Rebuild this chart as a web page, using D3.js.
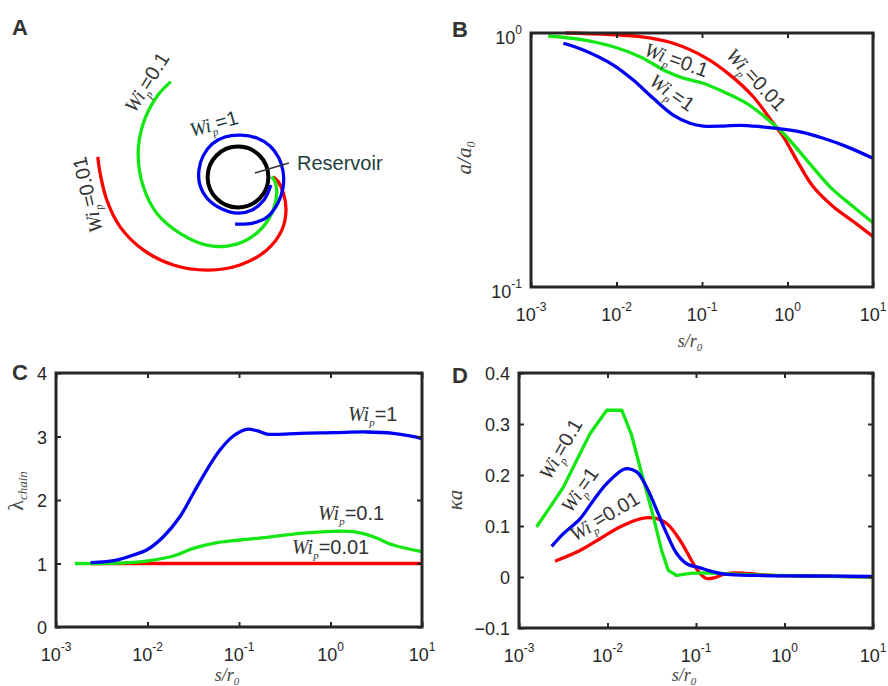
<!DOCTYPE html>
<html><head><meta charset="utf-8">
<script src="https://cdn.jsdelivr.net/npm/d3@7"></script>
<style>body{margin:0;background:#fff}</style>
</head><body><svg id="c" width="888" height="686"></svg>
<script>
// ---------- data ----------
const xTicks = [1e-3, 1e-2, 1e-1, 1, 10];
const xTickExp = ["-3", "-2", "-1", "0", "1"];
const bTicks = [0.1, 1];
const bTickExp = ["-1", "0"];
const cTicks = [0, 1, 2, 3, 4];
const dTicks = [-0.1, 0, 0.1, 0.2, 0.3, 0.4];
const series = ["0.01", "0.1", "1"];

// Panel A: streamlines around the reservoir (units of reservoir radius, y up)
const aRed = [[-4.38,0.63],[-4.31,0.12],[-4.10,-0.72],[-3.69,-1.55],[-2.96,-2.28],[-2.02,-2.75],[-0.93,-2.91],[0.06,-2.75],[0.90,-2.28],[1.37,-1.66],[1.50,-1.03],[1.42,-0.51],[1.26,-0.15],[1.10,0.01]];
const aGreen = [[-2.10,2.98],[-2.54,2.51],[-2.96,1.68],[-3.12,0.74],[-2.96,-0.30],[-2.54,-1.13],[-1.81,-1.76],[-0.98,-2.13],[-0.35,-2.16],[0.27,-1.97],[0.79,-1.55],[1.10,-1.03],[1.21,-0.51],[1.16,-0.15],[1.05,0.01]];
const aBlue = [[1.03,-0.25],[0.81,-0.72],[0.44,-1.03],[0,-1.13],[-0.5,-1.0],[-0.94,-0.69],[-1.19,-0.25],[-1.22,0.22],[-1.09,0.66],[-0.81,1.03],[-0.41,1.25],[0.09,1.31],[0.59,1.22],[1.0,0.97],[1.28,0.59],[1.41,0.16],[1.41,-0.31],[1.25,-0.81],[0.91,-1.25],[0.47,-1.44],[-0.09,-1.47]];
const reservoirR = 0.95;

// Panel B: a/a0 vs s/r0
const bRedS = [0.0025,0.0188,0.0461,0.1135,0.212,0.398,0.682,0.893,1.28,2.0,3.44,5.89,10];
const bRedA = [1.0,0.967,0.911,0.795,0.684,0.561,0.441,0.391,0.316,0.248,0.207,0.181,0.158];
const bGreenS = [0.00159,0.00374,0.00918,0.0188,0.0386,0.0604,0.1035,0.1774,0.333,0.571,0.893,1.68,3.14,5.89,10];
const bGreenA = [0.973,0.944,0.883,0.807,0.705,0.664,0.634,0.587,0.528,0.461,0.403,0.316,0.248,0.207,0.179];
const bBlueS = [0.00239,0.00409,0.00918,0.0157,0.0269,0.0461,0.0724,0.1035,0.1774,0.278,0.476,0.748,1.40,2.62,4.92,10];
const bBlueA = [0.911,0.857,0.748,0.653,0.553,0.475,0.441,0.430,0.430,0.433,0.428,0.421,0.408,0.385,0.357,0.321];

// Panel C: lambda_chain vs s/r0
const cRedS = [0.0024,0.01,0.1,1,10];
const cRedL = [1,1,1,1,1];
const cGreenS = [0.00161,0.00303,0.0070,0.0106,0.0191,0.0317,0.0524,0.1026,0.201,0.465,1.07,1.77,2.94,4.85,10];
const cGreenL = [1.0,1.0,1.018,1.045,1.118,1.239,1.318,1.37,1.412,1.475,1.507,1.501,1.422,1.291,1.186];
const cBlueS = [0.00239,0.0046,0.0070,0.0098,0.0149,0.0226,0.0317,0.0444,0.0619,0.0867,0.121,0.156,0.201,0.258,0.465,1.07,2.49,4.85,7.4,10];
const cBlueL = [1.013,1.055,1.134,1.213,1.422,1.737,2.106,2.472,2.787,3.008,3.113,3.091,3.039,3.035,3.05,3.06,3.071,3.05,3.008,2.965];

// Panel D: kappa*a vs s/r0
const dRedS = [0.00255,0.00489,0.00822,0.0138,0.0233,0.033,0.0467,0.0659,0.0933,0.111,0.132,0.164,0.204,0.264,0.374,0.748,1.78,10];
const dRedK = [0.031,0.052,0.075,0.098,0.114,0.116,0.105,0.072,0.026,0.007,-0.003,-0.001,0.005,0.008,0.007,0.003,0.002,0.0];
const dGreenS = [0.00158,0.00224,0.00317,0.00449,0.00634,0.0098,0.0145,0.01875,0.0243,0.0316,0.0409,0.0486,0.0605,0.0855,0.132,0.314,0.748,1.78,10];
const dGreenK = [0.098,0.137,0.176,0.229,0.281,0.327,0.327,0.278,0.203,0.131,0.052,0.013,0.003,0.007,0.008,0.005,0.003,0.002,0.0];
const dBlueS = [0.00234,0.00317,0.00489,0.00692,0.0098,0.0158,0.0214,0.0277,0.036,0.0467,0.0605,0.0785,0.111,0.157,0.222,0.485,1.78,10];
const dBlueK = [0.060,0.085,0.114,0.150,0.183,0.212,0.206,0.176,0.131,0.085,0.046,0.026,0.018,0.010,0.005,0.003,0.002,0.001];

// ---------- style ----------
const RED = "#ff0000", GREEN = "#14e614", BLUE = "#0000f5";
const INK = "#262626", TITLE = "#444", TEAL = "#1c3d3d";
const SANS = "Liberation Sans, Arial, sans-serif";
const SERIF = "Liberation Serif, Times New Roman, serif";

const svg = d3.select("#c");
svg.append("rect").attr("width", 888).attr("height", 686).attr("fill", "#fff");

function zip(a, b) { return a.map((v, i) => [v, b[i]]); }

function wiLabel(g, x, y, rot, val, color, size) {
  size = size || 20;
  const t = g.append("text")
    .attr("transform", `translate(${x},${y}) rotate(${rot})`)
    .attr("fill", color).attr("font-size", size);
  t.append("tspan").attr("font-family", SERIF).attr("font-style", "italic").text("Wi");
  t.append("tspan").attr("font-family", SERIF).attr("font-style", "italic")
    .attr("font-size", size * 0.55).attr("dy", size * 0.25).text("p");
  t.append("tspan").attr("font-family", SANS).attr("dy", -size * 0.25).text("=" + val);
}

function panelLetter(x, y, s) {
  svg.append("text").attr("x", x).attr("y", y).attr("font-family", SANS)
    .attr("font-weight", "bold").attr("font-size", 22).attr("fill", "#333").text(s);
}

function frame(g, L, R, T, B) {
  g.append("rect").attr("x", L).attr("y", T).attr("width", R - L).attr("height", B - T)
    .attr("fill", "none").attr("stroke", INK).attr("stroke-width", 3);
}

function xAxisLog(g, x, T, B, titleY) {
  const bot = g.append("g").attr("transform", `translate(0,${B})`)
    .call(d3.axisBottom(x).tickValues(xTicks).tickSize(-5).tickFormat(""));
  const top = g.append("g").attr("transform", `translate(0,${T})`)
    .call(d3.axisTop(x).tickValues(xTicks).tickSize(-5).tickFormat(""));
  [bot, top].forEach(a => { a.select(".domain").remove(); a.selectAll("line").attr("stroke", INK).attr("stroke-width", 2); });
  xTicks.forEach((v, i) => {
    const t = g.append("text").attr("x", x(v)).attr("y", B + 34).attr("text-anchor", "middle")
      .attr("font-family", SANS).attr("font-size", 18).attr("fill", INK);
    t.append("tspan").text("10");
    t.append("tspan").attr("font-size", 12).attr("dy", -10).text(xTickExp[i]);
  });
  const cx = (x.range()[0] + x.range()[1]) / 2 - 12;
  const t = g.append("text").attr("x", cx).attr("y", titleY).attr("text-anchor", "middle")
    .attr("font-family", SERIF).attr("font-style", "italic").attr("font-size", 18).attr("fill", TITLE);
  t.append("tspan").text("s/r");
  t.append("tspan").attr("font-size", 11).attr("dy", 4).text("0");
}

function yAxisLin(g, y, L, R, ticks, fmt) {
  const l = g.append("g").attr("transform", `translate(${L},0)`)
    .call(d3.axisLeft(y).tickValues(ticks).tickSize(-5).tickFormat(""));
  const r = g.append("g").attr("transform", `translate(${R},0)`)
    .call(d3.axisRight(y).tickValues(ticks).tickSize(-5).tickFormat(""));
  [l, r].forEach(a => { a.select(".domain").remove(); a.selectAll("line").attr("stroke", INK).attr("stroke-width", 2); });
  ticks.forEach(v => {
    g.append("text").attr("x", L - 9).attr("y", y(v) + 7).attr("text-anchor", "end")
      .attr("font-family", SANS).attr("font-size", 18).attr("fill", INK).text(fmt(v));
  });
}

function curve(g, pts, x, y, color, c) {
  g.append("path").datum(pts)
    .attr("d", d3.line().x(d => x(d[0])).y(d => y(d[1])).curve(c || d3.curveCatmullRom.alpha(0.5)))
    .attr("fill", "none").attr("stroke", color).attr("stroke-width", 3.3)
    .attr("stroke-linejoin", "round").attr("stroke-linecap", "butt");
}

// ---------- Panel A ----------
{
  const g = svg.append("g");
  const xA = d3.scaleLinear().domain([0, 1]).range([238, 270]);
  const yA = d3.scaleLinear().domain([0, 1]).range([177, 145]);
  curve(g, aRed, xA, yA, RED);
  curve(g, aGreen, xA, yA, GREEN);
  g.append("circle").attr("cx", xA(0)).attr("cy", yA(0)).attr("r", xA(reservoirR) - xA(0))
    .attr("fill", "none").attr("stroke", "#000").attr("stroke-width", 4);
  curve(g, aBlue, xA, yA, BLUE);
  g.append("line").attr("x1", xA(0.53)).attr("y1", yA(0.125)).attr("x2", xA(1.59)).attr("y2", yA(0.44))
    .attr("stroke", "#333").attr("stroke-width", 1.5);
  g.append("text").attr("x", 297).attr("y", 170).attr("font-family", SANS).attr("font-size", 20)
    .attr("fill", TEAL).text("Reservoir");
  wiLabel(g, 192, 137, -16, series[2], TEAL);
  wiLabel(g, 135, 114, -58, series[1], "#333");
  wiLabel(g, 103, 231, -103, series[0], "#333");
  panelLetter(12, 35, "A");
}

// ---------- Panel B ----------
{
  const g = svg.append("g");
  const L = 531, R = 873, T = 33, B = 287;
  const x = d3.scaleLog().domain([1e-3, 10]).range([L, R]);
  const y = d3.scaleLog().domain([0.1, 1]).range([B, T]);
  curve(g, zip(bRedS, bRedA), x, y, RED);
  curve(g, zip(bGreenS, bGreenA), x, y, GREEN);
  curve(g, zip(bBlueS, bBlueA), x, y, BLUE);
  frame(g, L, R, T, B);
  xAxisLog(g, x, T, B, 347);
  bTicks.forEach((v, i) => {
    const t = g.append("text").attr("x", L - 9).attr("y", y(v) + 10.5).attr("text-anchor", "end")
      .attr("font-family", SANS).attr("font-size", 18).attr("fill", INK);
    t.append("tspan").text("10");
    t.append("tspan").attr("font-size", 12).attr("dy", -10).text(bTickExp[i]);
  });
  const yt = g.append("text").attr("transform", `translate(471,158) rotate(-90)`).attr("text-anchor", "middle")
    .attr("font-family", SERIF).attr("font-style", "italic").attr("font-size", 21).attr("fill", TITLE);
  yt.append("tspan").text("a/a");
  yt.append("tspan").attr("font-size", 12).attr("dy", 4).text("0");
  wiLabel(g, 643, 55, 20, series[1], "#333");
  wiLabel(g, 648, 84, 35, series[2], "#333");
  wiLabel(g, 725, 56, 47, series[0], "#333");
  panelLetter(452, 37, "B");
}

// ---------- Panel C ----------
{
  const g = svg.append("g");
  const L = 56, R = 422, T = 373, B = 627;
  const x = d3.scaleLog().domain([1e-3, 10]).range([L, R]);
  const y = d3.scaleLinear().domain([0, 4]).range([B, T]);
  curve(g, zip(cRedS, cRedL), x, y, RED);
  curve(g, zip(cGreenS, cGreenL), x, y, GREEN);
  curve(g, zip(cBlueS, cBlueL), x, y, BLUE);
  frame(g, L, R, T, B);
  xAxisLog(g, x, T, B, 681);
  yAxisLin(g, y, L, R, cTicks, d3.format("d"));
  const yt = g.append("text").attr("transform", `translate(23,491) rotate(-90)`).attr("text-anchor", "middle")
    .attr("font-family", SERIF).attr("fill", TITLE);
  yt.append("tspan").attr("font-size", 22).text("λ");
  yt.append("tspan").attr("font-size", 13).attr("font-style", "italic").attr("dy", 4).text("chain");
  wiLabel(g, 348, 421, 0, series[2], "#333");
  wiLabel(g, 318, 520, 0, series[1], "#333");
  wiLabel(g, 292, 554, 0, series[0], "#333");
  panelLetter(12, 380, "C");
}

// ---------- Panel D ----------
{
  const g = svg.append("g");
  const L = 519, R = 873, T = 373, B = 628;
  const x = d3.scaleLog().domain([1e-3, 10]).range([L, R]);
  const y = d3.scaleLinear().domain([-0.1, 0.4]).range([B, T]);
  curve(g, zip(dRedS, dRedK), x, y, RED);
  curve(g, zip(dGreenS, dGreenK), x, y, GREEN, d3.curveLinear);
  curve(g, zip(dBlueS, dBlueK), x, y, BLUE);
  frame(g, L, R, T, B);
  xAxisLog(g, x, T, B, 681);
  yAxisLin(g, y, L, R, dTicks, v => (v === 0 ? "0" : d3.format(".1f")(v)));
  g.append("text").attr("transform", `translate(462,500) rotate(-90)`).attr("text-anchor", "middle")
    .attr("font-family", SERIF).attr("font-style", "italic").attr("font-size", 21).attr("fill", TITLE).text("κa");
  wiLabel(g, 550, 481, -60, series[1], "#333");
  wiLabel(g, 571, 514, -55, series[2], "#333");
  wiLabel(g, 575, 542, -31, series[0], "#333");
  panelLetter(452, 383, "D");
}
</script></body></html>
